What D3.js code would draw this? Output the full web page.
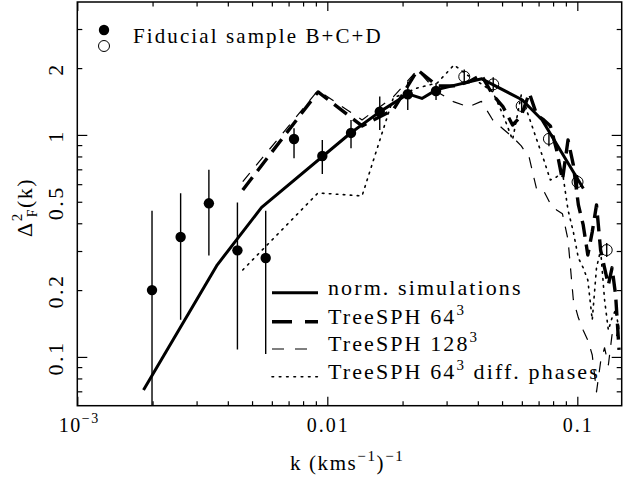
<!DOCTYPE html>
<html>
<head>
<meta charset="utf-8">
<title>flux power spectrum</title>
<style>
body { margin: 0; background: #fff; }
svg text { font-family: 'Liberation Serif', 'Times New Roman', serif; fill: #000; }
.frame { fill: none; stroke: #000; stroke-width: 1.5px; }
.tick line { stroke: #000; stroke-width: 1.2px; }
.errbar { stroke: #000; stroke-width: 1.4px; }
</style>
</head>
<body>
<svg width="642" height="477"></svg>
<script src="https://cdn.jsdelivr.net/npm/d3@7/dist/d3.min.js"></script>
<script>
// fiducial sample (filled) and B+C+D (open)
var kFid  = [0.00199, 0.00259, 0.00336, 0.00437, 0.00567, 0.00736, 0.00955, 0.01244, 0.01621, 0.02098, 0.02722];
var vFid  = [0.200, 0.347, 0.492, 0.302, 0.279, 0.959, 0.804, 1.021, 1.273, 1.525, 1.578];
var loFid = [0.040, 0.147, 0.286, 0.108, 0.103, 0.785, 0.667, 0.871, 1.053, 1.296, 1.438];
var hiFid = [0.456, 0.546, 0.696, 0.496, 0.455, 1.072, 0.950, 1.168, 1.488, 1.738, 1.715];

var kOpen  = [0.0353, 0.0461, 0.0599, 0.0770, 0.1002, 0.1311];
var vOpen  = [1.83, 1.69, 1.35, 0.96, 0.614, 0.303];
var loOpen = [1.70, 1.57, 1.26, 0.89, 0.57, 0.282];
var hiOpen = [1.97, 1.82, 1.45, 1.03, 0.66, 0.326];

// norm. simulations
var kNorm = [0.00184, 0.00363, 0.00546, 0.0124, 0.0162, 0.0210, 0.0239, 0.0274, 0.0415, 0.0601, 0.0722, 0.1057];
var vNorm = [0.071, 0.260, 0.472, 1.02, 1.27, 1.53, 1.46, 1.60, 1.79, 1.44, 1.17, 0.574];

// simulation box modes
var kSim = [0.00459, 0.00918, 0.01377, 0.01836, 0.02295, 0.02754, 0.03213, 0.03672, 0.04131, 0.0459,
            0.05049, 0.05508, 0.05967, 0.06426, 0.06885, 0.07344, 0.07803, 0.08262, 0.08721, 0.0918,
            0.09639, 0.10098, 0.10557, 0.11016, 0.11475, 0.11934, 0.12393, 0.12852, 0.13311, 0.1377,
            0.14229, 0.14688];
var v64 = [0.565, 1.562, 1.098, 1.296, 1.963, 1.663, 1.663, 1.733, 1.864, 1.514,
           1.337, 1.109, 1.218, 1.546, 1.230, 1.168, 1.098, 0.856, 0.627, 0.950,
           0.733, 0.484, 0.393, 0.288, 0.366, 0.484, 0.303, 0.252, 0.211, 0.252,
           0.190, 0.1075];
var v128 = [0.616, 1.587, 1.168, 1.483, 1.963, 1.562, 1.408, 1.337, 1.416, 1.168,
            1.064, 0.979, 0.892, 0.788, 0.565, 0.559, 0.489, 0.459, 0.441, 0.337,
            0.181, 0.150, 0.132, 0.119, 0.102, 0.0696, 0.095, 0.110, 0.092, 0.126,
            0.119, 0.139];
var vPhase = [0.2465, 0.548, 0.531, 1.468, 1.628, 1.715, 2.067, 1.844, 1.697, 1.562,
              1.230, 0.950, 1.514, 1.193, 0.950, 0.772, 0.627, 0.647, 0.681, 0.459,
              0.366, 0.279, 0.252, 0.222, 0.1468, 0.252, 0.303, 0.181, 0.132, 0.150,
              0.163, 0.132];

var xMajor = [0.001, 0.01, 0.1];
var xMinor = [0.002, 0.003, 0.004, 0.005, 0.006, 0.007, 0.008, 0.009,
              0.02, 0.03, 0.04, 0.05, 0.06, 0.07, 0.08, 0.09];
var yMajor = [0.1, 1];
var yMinor = [0.07, 0.08, 0.09, 0.2, 0.3, 0.4, 0.5, 0.6, 0.7, 0.8, 0.9, 2, 3];
var yLabels = [0.1, 0.2, 0.5, 1, 2];

var svg = d3.select("svg");
var L = 77.3, R = 621.7, T = 2, B = 405.7;

var x = d3.scaleLog().domain([0.001, 0.1505]).range([L, R]);
var y = d3.scaleLog().domain([0.0603, 3.97]).range([B, T]);

svg.append("clipPath").attr("id", "plot")
  .append("rect").attr("x", L).attr("y", T).attr("width", R - L).attr("height", B - T);

// ticks on all four sides, pointing in
function ticks(axisFn, vals, len, tr) {
  svg.append("g").attr("transform", tr)
    .call(axisFn.tickValues(vals).tickSize(len).tickFormat(""))
    .call(g => g.select(".domain").remove());
}
ticks(d3.axisBottom(x), xMajor, -9, "translate(0," + B + ")");
ticks(d3.axisBottom(x), xMinor, -4.5, "translate(0," + B + ")");
ticks(d3.axisTop(x), xMajor, -9, "translate(0," + T + ")");
ticks(d3.axisTop(x), xMinor, -4.5, "translate(0," + T + ")");
ticks(d3.axisLeft(y), yMajor, -10, "translate(" + L + ",0)");
ticks(d3.axisLeft(y), yMinor, -5, "translate(" + L + ",0)");
ticks(d3.axisRight(y), yMajor, -10, "translate(" + R + ",0)");
ticks(d3.axisRight(y), yMinor, -5, "translate(" + R + ",0)");

svg.append("rect").attr("class", "frame")
  .attr("x", L).attr("y", T).attr("width", R - L).attr("height", B - T);

// tick labels
var xl = svg.append("text").attr("x", x(0.001) + 2).attr("y", 432).attr("text-anchor", "middle")
  .style("font-size", "20px").style("letter-spacing", "1.5px");
xl.append("tspan").text("10");
xl.append("tspan").attr("dy", -9).style("font-size", "14px").text("\u22123");
svg.append("text").attr("x", x(0.01) + 1).attr("y", 432).attr("text-anchor", "middle")
  .style("font-size", "20px").style("letter-spacing", "2px").text("0.01");
svg.append("text").attr("x", x(0.1) + 1).attr("y", 432).attr("text-anchor", "middle")
  .style("font-size", "20px").style("letter-spacing", "2px").text("0.1");

svg.selectAll(".ylab").data(yLabels).enter().append("text")
  .attr("class", "ylab")
  .attr("transform", d => "translate(63," + (y(d) + 1) + ") rotate(-90)")
  .attr("text-anchor", "middle")
  .style("font-size", "22px").style("letter-spacing", "2.5px")
  .text(d => d);

// axis titles
var xt = svg.append("text").attr("x", 290).attr("y", 470)
  .style("font-size", "21px").style("letter-spacing", "1.6px");
xt.append("tspan").text("k (kms");
xt.append("tspan").attr("dy", -9).style("font-size", "15px").text("\u22121");
xt.append("tspan").attr("dy", 9).text(")");
xt.append("tspan").attr("dy", -9).style("font-size", "15px").text("\u22121");

var yt = svg.append("text").attr("transform", "translate(32,237) rotate(-90)")
  .style("font-size", "22px").style("letter-spacing", "1.5px");
yt.append("tspan").text("\u0394");
yt.append("tspan").attr("dy", -10).style("font-size", "15px").text("2");
yt.append("tspan").attr("dx", -5).attr("dy", 15).style("font-size", "14px").text("F");
yt.append("tspan").attr("dy", -5).text("(k)");

// curves
var plot = svg.append("g").attr("clip-path", "url(#plot)");
var line = d3.line().x(d => x(d[0])).y(d => y(d[1]));

var curves = [
  {k: kSim, v: vPhase, w: 1.6, dash: "1.6,5.4", cap: "round"},
  {k: kSim, v: v128, w: 1.2, dash: "11,10", cap: "butt"},
  {k: kSim, v: v64, w: 3.4, dash: "16,8", cap: "butt"},
  {k: kNorm, v: vNorm, w: 3, dash: null, cap: "butt"}
];
curves.forEach(function (c) {
  plot.append("path")
    .datum(d3.zip(c.k, c.v))
    .attr("d", line)
    .attr("fill", "none")
    .attr("stroke", "#000")
    .attr("stroke-width", c.w)
    .attr("stroke-linecap", c.cap)
    .attr("stroke-linejoin", "round")
    .attr("stroke-dasharray", c.dash);
});

// error bars and points
var fid = d3.range(kFid.length).map(i => ({k: kFid[i], v: vFid[i], lo: loFid[i], hi: hiFid[i]}));
var opn = d3.range(kOpen.length).map(i => ({k: kOpen[i], v: vOpen[i], lo: loOpen[i], hi: hiOpen[i]}));

plot.selectAll(".errbar").data(fid.concat(opn)).enter().append("line")
  .attr("class", "errbar")
  .attr("x1", d => x(d.k)).attr("x2", d => x(d.k))
  .attr("y1", d => y(d.lo)).attr("y2", d => y(d.hi));

plot.selectAll(".fid").data(fid).enter().append("circle")
  .attr("cx", d => x(d.k)).attr("cy", d => y(d.v)).attr("r", 5.2).attr("fill", "#000");

plot.selectAll(".opn").data(opn).enter().append("circle")
  .attr("cx", d => x(d.k)).attr("cy", d => y(d.v)).attr("r", 5.5)
  .attr("fill", "none").attr("stroke", "#000").attr("stroke-width", 1);

// upper legend
svg.append("circle").attr("cx", 104).attr("cy", 30).attr("r", 5.2).attr("fill", "#000");
svg.append("circle").attr("cx", 104).attr("cy", 46).attr("r", 5.5).attr("fill", "none").attr("stroke", "#000").attr("stroke-width", 1);
svg.append("text").attr("x", 133).attr("y", 43)
  .style("font-size", "21px").style("letter-spacing", "2.1px").text("Fiducial sample B+C+D");

// lower legend
var legRows = [
  {w: 3, dash: null, label: ["norm. simulations"]},
  {w: 3.4, dash: "20,13", label: ["TreeSPH 64", "3", ""]},
  {w: 1.2, dash: "12,11", label: ["TreeSPH 128", "3", ""]},
  {w: 1.6, dash: "1.6,5.7", label: ["TreeSPH 64", "3", " diff. phases"]}
];
var legY = [292.7, 321.7, 349, 376.7];
legRows.forEach(function (r, i) {
  svg.append("line")
    .attr("x1", 272).attr("x2", 318).attr("y1", legY[i]).attr("y2", legY[i])
    .attr("stroke", "#000").attr("stroke-width", r.w)
    .attr("stroke-linecap", i == 3 ? "round" : "butt")
    .attr("stroke-dasharray", r.dash);
  var t = svg.append("text").attr("x", 328).attr("y", legY[i] + 2)
    .style("font-size", "22px").style("letter-spacing", "2.1px");
  t.append("tspan").text(r.label[0]);
  if (r.label.length > 1) {
    t.append("tspan").attr("dy", -9).style("font-size", "15px").text(r.label[1]);
    t.append("tspan").attr("dy", 9).text(r.label[2]);
  }
});
</script>
</body>
</html>
